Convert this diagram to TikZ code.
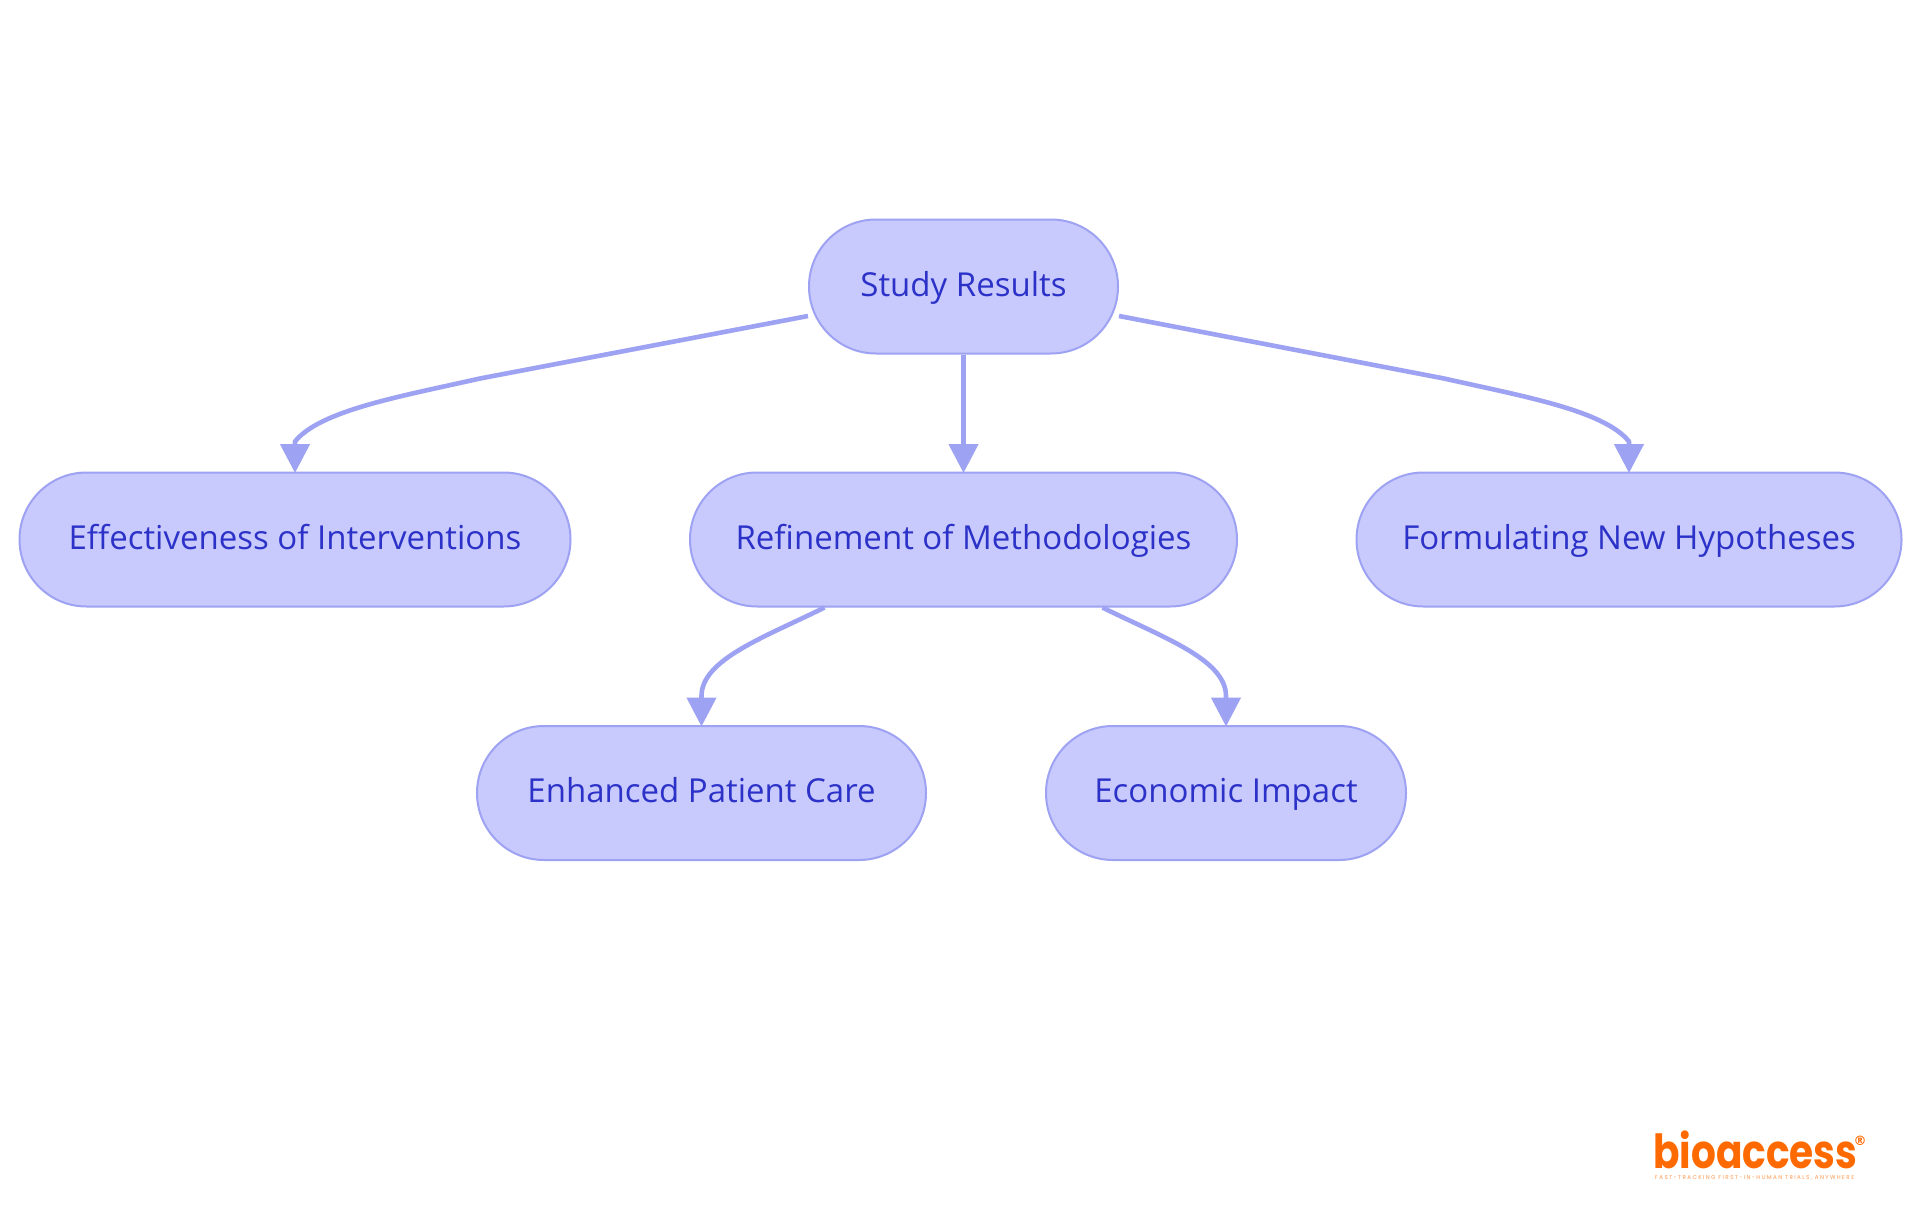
\documentclass[tikz,border=0pt]{standalone}
\usepackage{fontspec}
\setmainfont{Open Sans}
\newfontfamily\logofont{Poppins}
\newfontfamily\regfont{DejaVu Sans}
\newfontfamily\tagfont[LetterSpace=25]{Poppins}
\usetikzlibrary{arrows.meta,calc}
\definecolor{nodefill}{HTML}{C8CAFD}
\definecolor{nodeline}{HTML}{9EA2F2}
\definecolor{nodetext}{HTML}{2C32C8}
\definecolor{logoorange}{HTML}{FF6A00}
\tikzset{
  pill/.style={draw=nodeline,fill=nodefill,line width=2pt,rounded corners=67pt,
    text=nodetext,font=\fontsize{33}{40}\selectfont,minimum height=134pt,inner sep=0pt,
    text height=26pt,text depth=7pt,anchor=center},
  link/.style={draw=nodeline,line width=4.6pt,line join=round,shorten >=-1.5pt,-{Triangle[length=29pt,width=29pt]}}
}
\begin{document}
\begin{tikzpicture}[x=1pt,y=-1pt]
\useasboundingbox (0,0) rectangle (1920,1215);
\fill[white] (0,0) rectangle (1920,1215);
\node[pill,minimum width=309pt] (study) at (963.5,286.5) {Study Results};
\node[pill,minimum width=551pt] (eff) at (295,539.5) {Effectiveness of Interventions};
\node[pill,minimum width=547pt] (ref) at (963.5,539.5) {Refinement of Methodologies};
\node[pill,minimum width=545pt] (form) at (1629,539.5) {Formulating New Hypotheses};
\node[pill,minimum width=449pt] (care) at (701.5,793) {Enhanced Patient Care};
\node[pill,minimum width=360pt] (econ) at (1226,793) {Economic Impact};
\draw[link] ($(study.west)+(0,29.5)$) -- ($(eff.north)+(185,-93)$)
   .. controls +(-80,18) and +(25,-31) .. ($(eff.north)+(0,-30)$) -- (eff.north);
\draw[link] (study.south) -- (ref.north);
\draw[link] ($(study.east)+(0,29.5)$) -- ($(form.north)+(-185,-93)$)
   .. controls +(80,18) and +(-25,-31) .. ($(form.north)+(0,-30)$) -- (form.north);
\draw[link] ($(ref.south)+(-139,0)$) .. controls +(-58,29) and +(0,-37) .. ($(care.north)+(0,-29)$) -- (care.north);
\draw[link] ($(ref.south)+(139,0)$) .. controls +(58,29) and +(0,-37) .. ($(econ.north)+(0,-29)$) -- (econ.north);
\node[anchor=base west,inner sep=0pt,text=logoorange,font=\logofont\bfseries\fontsize{47}{47}\selectfont] (logo) at (1653,1168) {\scalebox{0.83}[1]{bioaccess}};
\node[anchor=center,inner sep=0pt,text=logoorange,font=\regfont\bfseries\fontsize{13}{13}\selectfont] (reg) at (1860,1141) {®};
\node[anchor=base west,inner sep=0pt,text=logoorange!70,font=\tagfont\fontsize{5.6}{6}\selectfont] (tag) at (1655,1179) {FAST-TRACKING FIRST-IN-HUMAN TRIALS, ANYWHERE};
\end{tikzpicture}
\end{document}
